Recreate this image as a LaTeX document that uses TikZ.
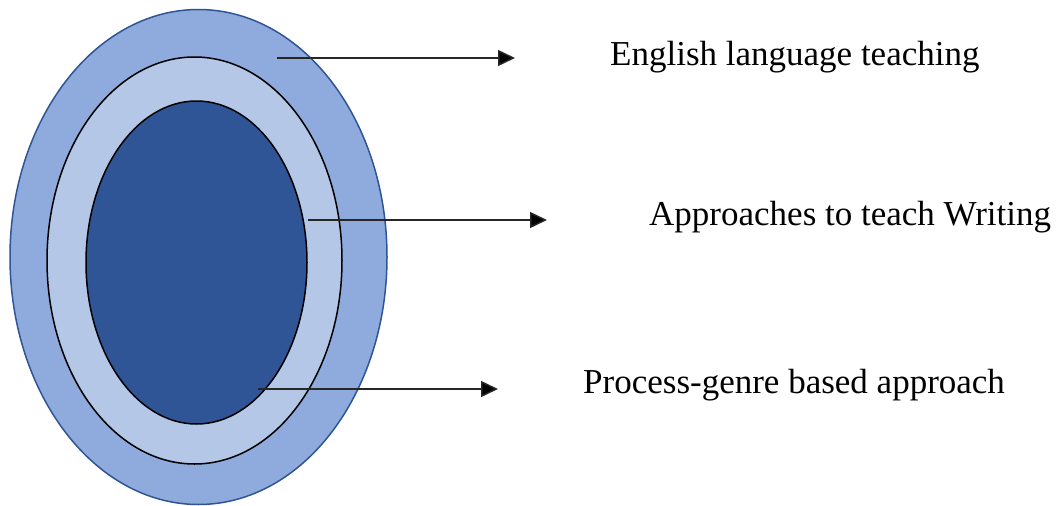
\documentclass[tikz,border=0pt]{standalone}
\usepackage{fontspec}
\setmainfont{Liberation Serif}
\usetikzlibrary{arrows.meta}
\definecolor{outerfill}{HTML}{8FAADC}
\definecolor{outerline}{HTML}{2F5597}
\definecolor{midfill}{HTML}{B4C7E7}
\definecolor{innerfill}{HTML}{2F5597}
\definecolor{arrowline}{HTML}{262626}
\begin{document}
\begin{tikzpicture}[x=1pt,y=-1pt,
  ring/.style={line width=1.5pt},
  pointer/.style={draw=arrowline,line width=1.5pt,-{Triangle[length=17pt,width=16pt,fill=black]}},
  label/.style={anchor=base west,inner sep=0pt,font=\fontsize{35}{42}\selectfont}]
\useasboundingbox (0,0) rectangle (1061,506);
\fill[white] (0,0) rectangle (1061,506);
\draw[ring,fill=outerfill,draw=outerline] (198.5,257) ellipse [x radius=188.5,y radius=247.5];
\draw[ring,fill=midfill,draw=black] (194.5,260.5) ellipse [x radius=147.5,y radius=203.5];
\draw[ring,fill=innerfill,draw=black] (196.5,262.5) ellipse [x radius=110.5,y radius=161.5];
\coordinate (s1) at (277,58);
\coordinate (e1) at (515,58);
\coordinate (s2) at (308,220);
\coordinate (e2) at (547,220);
\coordinate (s3) at (258,389);
\coordinate (e3) at (498,389);
\draw[pointer] (s1) -- (e1);
\draw[pointer] (s2) -- (e2);
\draw[pointer] (s3) -- (e3);
\node[label] (t1) at (610,65) {English language teaching};
\node[label] (t2) at (649,225) {Approaches to teach Writing};
\node[label] (t3) at (583,393) {Process-genre based approach};
\end{tikzpicture}
\end{document}
